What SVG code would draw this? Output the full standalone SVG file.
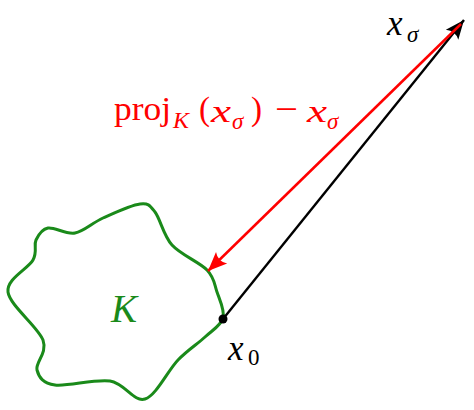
<svg xmlns="http://www.w3.org/2000/svg" width="474" height="410" viewBox="0 0 474 410">
<style>
.serif{font-family:"Liberation Serif","Times New Roman",serif}
.it{font-style:italic}
.red{fill:#ff0000}
.blk{fill:#000000}
</style>
<defs>
<marker id="headK" markerUnits="userSpaceOnUse" markerWidth="24" markerHeight="20" viewBox="-20 -10 24 20" refX="0" refY="0" orient="auto">
<path d="M0,0 L-19,-8 Q-13.5,0 -19,8 Z" fill="#000000"/>
</marker>
<marker id="headR" markerUnits="userSpaceOnUse" markerWidth="24" markerHeight="20" viewBox="-20 -10 24 20" refX="0" refY="0" orient="auto">
<path d="M0,0 L-19,-8 Q-13.5,0 -19,8 Z" fill="#ff0000"/>
</marker>
</defs>
<rect width="474" height="410" fill="#ffffff"/>
<g id="set-K">
<path d="M36,240 C38.5,234.7 41.5,229.2 48,228 C54.5,226.8 65.8,234.7 75,233 C84.2,231.3 92.2,222.8 103,218 C113.8,213.2 131.3,205 140,204 C148.7,203 149.7,205.2 155,212 C160.3,218.8 163.3,235.3 172,245 C180.7,254.7 199.5,262.2 207,270 C214.5,277.8 214.3,284 217,292 C219.7,300 225,310.5 223,318 C221,325.5 212.5,330 205,337 C197.5,344 188,349.7 178,360 C168,370.3 156.3,395.5 145,399 C133.7,402.5 125,383.3 110,381 C95,378.7 67.2,386.8 55,385 C42.8,383.2 39,377.5 37,370 C35,362.5 47.8,353 43,340 C38.2,327 9.7,305.3 8,292 C6.3,278.7 28.3,268.7 33,260 C37.7,251.3 33.5,245.3 36,240 Z" fill="none" stroke="#1a8a1a" stroke-width="3"/>
<text class="serif it" x="111" y="322" font-size="39" fill="#1a8a1a">K</text>
</g>
<g id="connectors">
<line x1="223" y1="319" x2="464" y2="20" stroke="#000000" stroke-width="2.4" marker-end="url(#headK)"/>
<line x1="461" y1="24" x2="208" y2="271" stroke="#ff0000" stroke-width="2.5" marker-end="url(#headR)"/>
</g>
<g id="x0">
<circle cx="223" cy="319" r="4.5" fill="#000000"/>
<text class="serif it blk" x="228" y="360" font-size="35">x</text>
<text class="serif blk" x="248" y="365" font-size="23">0</text>
</g>
<g id="xsigma">
<text class="serif it blk" x="387" y="35" font-size="35">x</text>
<text class="serif it blk" x="407" y="42" font-size="23">σ</text>
</g>
<g id="label-proj">
<text class="serif red" x="114" y="120" font-size="33" textLength="57" lengthAdjust="spacingAndGlyphs">proj</text>
<text class="serif it red" x="173" y="128" font-size="24">K</text>
<text class="serif red" x="199" y="120" font-size="33">(</text>
<text class="serif it red" x="211" y="122" font-size="32" textLength="20" lengthAdjust="spacingAndGlyphs">x</text>
<text class="serif it red" x="232" y="129" font-size="23">σ</text>
<text class="serif red" x="251" y="120" font-size="33">)</text>
<text class="serif red" x="275" y="120" font-size="33" textLength="23" lengthAdjust="spacingAndGlyphs">−</text>
<text class="serif it red" x="307" y="122" font-size="32" textLength="20" lengthAdjust="spacingAndGlyphs">x</text>
<text class="serif it red" x="327" y="129" font-size="23">σ</text>
</g>
</svg>
